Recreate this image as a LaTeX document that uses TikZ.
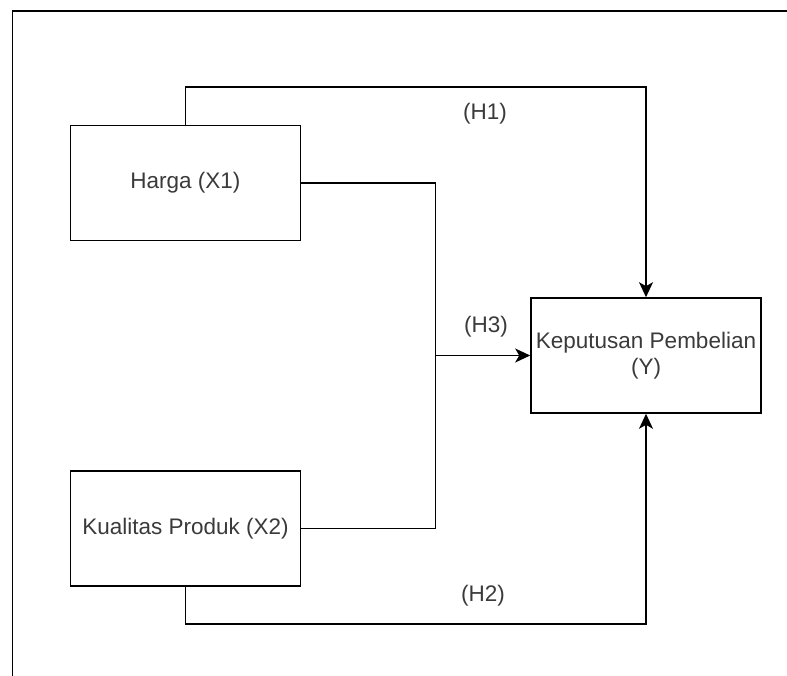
\documentclass[tikz,border=0pt]{standalone}
\usepackage{fontspec}
\setmainfont{Liberation Sans}
\usetikzlibrary{arrows.meta}
\definecolor{txt}{HTML}{3A3A3A}
\tikzset{
  box/.style={draw=black, line width=1.6pt, minimum width=230pt, minimum height=115pt, inner sep=0pt, align=center, text=txt, font=\fontsize{22.5}{26}\selectfont},
  lbl/.style={text=txt, font=\fontsize{22.5}{26}\selectfont, inner sep=0pt},
  conn/.style={draw=black, line width=1.6pt},
  arr/.style={conn, -{Stealth[length=15pt,width=14pt,inset=4pt]}},
}
\begin{document}
\begin{tikzpicture}[x=1pt,y=1pt]
\useasboundingbox (0,0) rectangle (787,-676);
\draw[line width=1.6pt] (787,-11) -- (12.5,-11) -- (12.5,-676);
\node[box] (harga) at (185.5,-183) {Harga (X1)};
\node[box] (kual) at (185.5,-528.5) {Kualitas Produk (X2)};
\node[box] (kep) at (646,-355.5) {Keputusan Pembelian\\(Y)};
\coordinate (top) at (185.5,-87);
\coordinate (bot) at (185.5,-624);
\coordinate (junc) at (435.5,-355.5);
\node[lbl] (h1) at (485,-114) {(H1)};
\node[lbl] (h3) at (486,-327) {(H3)};
\node[lbl] (h2) at (483,-596) {(H2)};
\draw[arr] (harga.north) -- (top) -| (kep.north);
\draw[arr] (kual.south) -- (bot) -| (kep.south);
\draw[conn] (harga.east) -| (junc);
\draw[conn] (kual.east) -| (junc);
\draw[arr] (junc) -- (kep.west);
\end{tikzpicture}
\end{document}
